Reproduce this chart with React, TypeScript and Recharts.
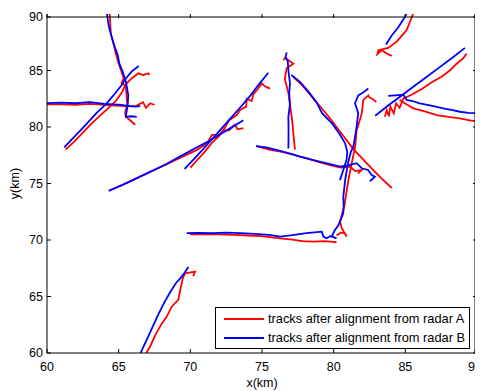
import React from 'react';
import { LineChart, Line, XAxis, YAxis, Legend } from 'recharts';

type Pt = [number, number];

const xTicks = [60, 65, 70, 75, 80, 85, 90];
const yTicks = [60, 65, 70, 75, 80, 85, 90];

const seriesNames = ['tracks after alignment from radar A', 'tracks after alignment from radar B'];

// radar A tracks (red)
const redA: Pt[] = [[64.35, 90.3], [64.4, 89.5], [64.45, 88.3], [64.65, 87.3], [64.8, 86.5], [65.0, 85.6], [65.2, 84.9], [65.35, 84.3], [65.2, 83.9], [65.5, 83.6], [65.55, 82.8], [65.6, 82.0], [65.45, 81.3], [65.5, 80.9], [65.8, 80.6], [66.15, 80.2]];
const redB: Pt[] = [[61.3, 78.0], [61.9, 78.7], [62.5, 79.5], [63.1, 80.3], [63.7, 81.0], [64.3, 81.7], [64.8, 82.3], [65.2, 83.0], [65.5, 83.8], [65.9, 84.3], [66.37, 84.75], [66.7, 84.6], [67.07, 84.75], [67.14, 84.6]];
const redC: Pt[] = [[59.8, 82.0], [61, 82.0], [62, 81.95], [63, 82.05], [64, 81.95], [64.8, 81.9], [65.5, 81.85], [66.2, 81.85], [66.7, 82.2], [66.9, 81.7], [67.2, 82.1], [67.5, 81.95]];
const redD: Pt[] = [[64.5, 74.45], [65.5, 75.0], [66.5, 75.6], [67.5, 76.2], [68.5, 76.8], [69.5, 77.4], [70.5, 78.0], [71.2, 78.6], [71.5, 79.3], [72.0, 79.3], [72.3, 79.7], [72.7, 79.7], [73.1, 80.2], [73.3, 79.8], [73.7, 79.9]];
const redE: Pt[] = [[70.0, 76.4], [70.5, 77.1], [71.0, 77.8], [71.5, 78.6], [72.0, 79.2], [72.4, 79.9], [72.7, 80.6], [73.24, 81.06], [73.47, 81.5], [73.9, 81.8], [73.93, 82.5], [74.28, 82.3], [74.4, 82.9], [74.74, 83.4], [74.98, 83.86], [75.2, 83.6], [75.56, 83.4]];
const redF: Pt[] = [[76.5, 85.9], [76.6, 86.1], [76.85, 85.9], [77.19, 85.6], [76.72, 85.2], [76.65, 84.7], [76.6, 84.2], [76.84, 83.0], [76.95, 82.0], [77.07, 80.9], [77.15, 80.0], [77.2, 79.2], [77.25, 78.6], [77.3, 78.0]];
const redG: Pt[] = [[77.2, 84.4], [77.8, 83.7], [78.4, 82.8], [79.0, 81.9], [79.6, 81.0], [80.2, 80.0], [80.8, 79.0], [81.4, 78.0], [82.0, 77.2], [82.6, 76.4], [83.3, 75.5], [84.05, 74.6]];
const redH: Pt[] = [[74.6, 78.3], [75.5, 78.0], [76.4, 77.8], [77.3, 77.5], [78.2, 77.2], [79.0, 76.9], [79.8, 76.6], [80.5, 76.4], [81.14, 76.5], [81.5, 76.1], [81.96, 76.2], [81.7, 75.9]];
const redI: Pt[] = [[80.2, 70.4], [80.5, 70.65], [80.8, 70.6], [80.9, 70.3], [80.55, 71.1], [80.45, 71.6], [80.6, 72.4], [80.75, 73.0], [80.8, 73.5], [81.03, 75.3], [81.26, 76.8], [81.5, 78.26], [81.6, 79.7], [81.8, 80.5], [81.96, 81.2], [82.07, 82.4], [82.42, 82.8], [82.5, 82.6], [82.7, 82.5], [82.98, 82.2]];
const redJ: Pt[] = [[69.98, 70.5], [71, 70.5], [72, 70.5], [73, 70.45], [74, 70.4], [75, 70.35], [76.26, 70.15], [77.0, 70.05], [77.8, 69.9], [78.6, 69.85], [79.4, 69.9], [79.8, 69.85], [80.2, 69.8]];
const redK: Pt[] = [[66.5, 59.2], [66.8, 59.7], [67.2, 60.6], [67.6, 61.7], [68.0, 62.6], [68.35, 63.2], [68.7, 64.1], [69.16, 64.7], [69.3, 65.6], [69.47, 66.6], [69.63, 67.05], [70.33, 67.2], [70.2, 66.8]];
const redL: Pt[] = [[85.6, 90.2], [85.35, 89.4], [85.1, 88.6], [84.7, 88.0], [84.4, 87.55], [83.8, 87.0], [83.12, 86.8], [83.05, 86.45], [83.35, 86.8], [83.7, 86.5], [84.05, 86.3]];
const redM: Pt[] = [[83.58, 80.9], [83.7, 81.5], [83.85, 80.95], [83.95, 81.8], [84.2, 81.2], [84.35, 82.1], [84.6, 81.7], [84.86, 82.5], [85.5, 82.9], [86.2, 83.4], [86.9, 84.0], [87.53, 84.45], [88.1, 85.0], [88.58, 85.6], [89.05, 86.1], [89.28, 86.5]];
const redN: Pt[] = [[84.6, 82.4], [85.1, 82.0], [85.56, 81.65], [86.3, 81.4], [87.19, 81.06], [88.0, 80.9], [88.8, 80.77], [89.4, 80.6], [90.2, 80.45]];

// radar B tracks (blue)
const blueA: Pt[] = [[64.15, 90.3], [64.3, 89.0], [64.5, 88.0], [64.75, 87.0], [64.93, 86.4], [65.05, 85.6], [65.25, 85.0], [65.44, 84.3], [65.55, 83.7], [65.67, 82.8], [65.63, 81.95], [65.56, 81.4], [65.5, 80.9], [65.9, 80.95], [66.26, 80.9]];
const blueB: Pt[] = [[61.2, 78.2], [61.8, 79.0], [62.4, 79.8], [63.0, 80.6], [63.5, 81.3], [64.1, 82.0], [64.7, 82.9], [65.2, 83.7], [65.5, 84.3], [65.9, 84.9], [66.4, 85.4]];
const blueC: Pt[] = [[59.8, 82.1], [61, 82.15], [62, 82.1], [63, 82.2], [64, 82.05], [64.7, 82.0], [65.2, 81.95], [65.7, 81.85], [66.2, 81.8], [66.5, 81.85]];
const blueD: Pt[] = [[64.3, 74.35], [65.3, 74.9], [66.3, 75.5], [67.3, 76.1], [68.3, 76.7], [69.3, 77.4], [70.3, 78.1], [71.2, 78.7], [72.0, 79.3], [72.8, 79.9], [73.7, 80.6]];
const blueE: Pt[] = [[69.6, 76.3], [70.2, 77.1], [70.8, 77.9], [71.5, 78.9], [72.2, 79.9], [72.9, 80.9], [73.6, 81.9], [74.2, 82.8], [74.8, 83.8], [75.44, 84.8]];
const blueF: Pt[] = [[76.72, 86.6], [76.65, 86.2], [76.8, 85.8], [76.84, 85.0], [76.95, 83.9], [76.9, 83.0], [76.95, 82.0], [76.84, 80.9], [76.85, 80.0], [76.85, 79.0], [76.84, 78.1]];
const blueG: Pt[] = [[77.05, 84.6], [77.65, 84.0], [78.2, 83.2], [78.8, 82.2], [79.2, 81.2], [79.9, 80.3], [80.4, 79.4], [80.8, 78.55], [80.95, 77.8], [80.9, 77.1], [80.7, 76.3], [80.44, 75.3]];
const blueH: Pt[] = [[74.58, 78.3], [75.3, 78.2], [76.2, 77.9], [77.1, 77.6], [77.65, 77.37], [78.8, 77.0], [79.97, 76.64], [80.44, 76.5], [81.0, 76.6], [81.6, 76.8], [81.96, 76.35], [82.4, 76.2], [82.65, 75.75], [82.88, 75.6], [82.53, 75.2]];
const blueI: Pt[] = [[79.86, 70.3], [80.1, 70.9], [80.33, 71.3], [80.67, 72.36], [80.7, 73.0], [80.67, 73.8], [80.8, 75.3], [81.0, 76.8], [81.2, 77.8], [81.37, 78.26], [81.5, 79.2], [81.6, 80.0], [81.65, 80.6], [81.72, 81.2], [81.49, 82.1], [81.72, 82.8], [82.0, 83.0], [82.42, 83.4]];
const blueJ: Pt[] = [[69.75, 70.6], [70.5, 70.62], [71.5, 70.6], [72.5, 70.65], [73.5, 70.6], [74.5, 70.55], [75.5, 70.45], [76.26, 70.3], [77.0, 70.4], [78.1, 70.6], [79.17, 70.74], [79.28, 70.3], [79.5, 70.15], [79.8, 70.35], [80.2, 70.15]];
const blueK: Pt[] = [[66.3, 59.3], [66.6, 60.2], [67.0, 61.3], [67.4, 62.4], [67.8, 63.5], [68.2, 64.5], [68.6, 65.4], [69.0, 66.2], [69.3, 66.6], [69.6, 67.1], [69.86, 67.6]];
const blueL: Pt[] = [[85.15, 90.2], [84.9, 89.6], [84.5, 88.8], [84.05, 88.1], [83.85, 87.7], [83.65, 87.3]];
const blueM: Pt[] = [[82.9, 81.0], [83.8, 81.9], [84.7, 82.75], [85.6, 83.6], [86.5, 84.45], [87.4, 85.3], [88.3, 86.15], [89.16, 87.0]];
const blueN: Pt[] = [[83.8, 82.75], [84.3, 82.8], [84.86, 82.85], [85.1, 82.4], [85.5, 82.3], [86.0, 82.1], [86.8, 81.9], [87.65, 81.65], [88.3, 81.5], [88.8, 81.35], [89.4, 81.25], [90.2, 81.2]];

const redTracks = [redA, redB, redC, redD, redE, redF, redG, redH, redI, redJ, redK, redL, redM, redN];
const blueTracks = [blueA, blueB, blueC, blueD, blueE, blueF, blueG, blueH, blueI, blueJ, blueK, blueL, blueM, blueN];

const toRows = (pts: Pt[]) => pts.map(([x, y]) => ({ x, y }));

const FONT = '"Liberation Sans", Arial, sans-serif';
const RED = '#ff0000';
const BLUE = '#0000ff';
const TICK_LEN = 4;

const CHART_W = 475;
const CHART_H = 383;
const MARGIN = { top: 6, right: 6, bottom: 6, left: 0 };
const Y_AXIS_W = 39;
const X_AXIS_H = 32;
const PLOT_W = CHART_W - MARGIN.left - MARGIN.right - Y_AXIS_W;
const PLOT_H = CHART_H - MARGIN.top - MARGIN.bottom - X_AXIS_H;

// matlab-style box: ticks point inward on all four sides.
// the top/right ticks and the closing frame lines hang off the bottom/left ticks
const BottomTick: React.FC<any> = ({ x, y, payload }) => (
  <g>
    <line x1={x} y1={y} x2={x} y2={y - TICK_LEN} stroke="#000" />
    <line x1={x} y1={y - PLOT_H} x2={x} y2={y - PLOT_H + TICK_LEN} stroke="#000" />
    {payload.value === 90 && <line x1={x} y1={y} x2={x} y2={y - PLOT_H} stroke="#000" />}
    <text x={x} y={y + 14} textAnchor="middle" dominantBaseline="central" fontSize={12.5} fontFamily={FONT} fill="#000">
      {payload.value}
    </text>
  </g>
);

const LeftTick: React.FC<any> = ({ x, y, payload }) => (
  <g>
    <line x1={x} y1={y} x2={x + TICK_LEN} y2={y} stroke="#000" />
    <line x1={x + PLOT_W} y1={y} x2={x + PLOT_W - TICK_LEN} y2={y} stroke="#000" />
    {payload.value === 90 && <line x1={x} y1={y} x2={x + PLOT_W} y2={y} stroke="#000" />}
    <text x={x - 4} y={y} textAnchor="end" dominantBaseline="central" fontSize={12.5} fontFamily={FONT} fill="#000">
      {payload.value}
    </text>
  </g>
);

const XLabel: React.FC<any> = ({ viewBox }) => {
  const cx = viewBox.x + viewBox.width / 2;
  const cy = viewBox.y + 30;
  return (
    <text x={cx} y={cy} textAnchor="middle" dominantBaseline="central" fontSize={12.5} fontFamily={FONT} fill="#000">
      x(km)
    </text>
  );
};

const YLabel: React.FC<any> = ({ viewBox }) => {
  const cx = viewBox.x + 7;
  const cy = viewBox.y + viewBox.height / 2;
  return (
    <text x={cx} y={cy} transform={`rotate(-90 ${cx} ${cy})`} textAnchor="middle" dominantBaseline="central" fontSize={12.5} fontFamily={FONT} fill="#000">
      y(km)
    </text>
  );
};

const LegendBox = () => (
  <div style={{ width: 253, height: 40, border: '1px solid #000', background: '#fff', fontFamily: FONT, fontSize: 12.8, color: '#000' }}>
    {[RED, BLUE].map((c, i) => (
      <div key={c} style={{ position: 'relative', height: 19, marginTop: i === 0 ? 2 : 0 }}>
        <div style={{ position: 'absolute', left: 8, top: 8, width: 40, height: 2, background: c }} />
        <span style={{ position: 'absolute', left: 52, top: 1, whiteSpace: 'nowrap' }}>{seriesNames[i]}</span>
      </div>
    ))}
  </div>
);

export default function App() {
  return (
    <LineChart width={CHART_W} height={CHART_H} margin={MARGIN}>
      <XAxis
        type="number"
        dataKey="x"
        domain={[60, 90]}
        ticks={xTicks}
        allowDataOverflow
        height={X_AXIS_H}
        tickSize={0}
        tickMargin={0}
        tickLine={false}
        tick={<BottomTick />}
        stroke="#000"
        label={<XLabel />}
      />
      <YAxis
        type="number"
        domain={[60, 90]}
        ticks={yTicks}
        allowDataOverflow
        width={Y_AXIS_W}
        tickSize={0}
        tickMargin={0}
        tickLine={false}
        tick={<LeftTick />}
        stroke="#000"
        label={<YLabel />}
      />
      {redTracks.map((t, i) => (
        <Line key={`r${i}`} data={toRows(t)} dataKey="y" stroke={RED} strokeWidth={1.8} dot={false} isAnimationActive={false} />
      ))}
      {blueTracks.map((t, i) => (
        <Line key={`b${i}`} data={toRows(t)} dataKey="y" stroke={BLUE} strokeWidth={1.8} dot={false} isAnimationActive={false} />
      ))}
      <Legend
        layout="vertical"
        align="center"
        verticalAlign="middle"
        content={<LegendBox />}
        wrapperStyle={{ position: 'absolute', left: 207, top: 299, width: 255, height: 42 }}
      />
    </LineChart>
  );
}
